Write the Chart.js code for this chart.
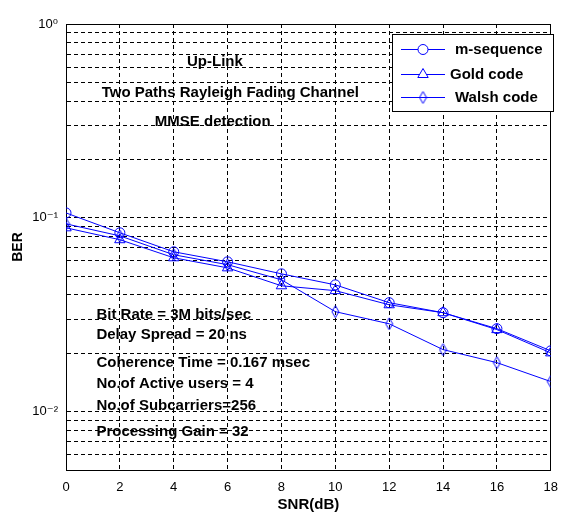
<!DOCTYPE html>
<html><head><meta charset="utf-8">
<script src="https://cdn.jsdelivr.net/npm/chart.js@4.4.1/dist/chart.umd.min.js"></script>
<style>html,body{margin:0;padding:0;background:#fff}#wrap{width:568px;height:518px}</style>
</head><body><div id="wrap"><canvas id="c" width="568" height="518"></canvas></div>
<script>
// ---- data ----
const snr = [0, 2, 4, 6, 8, 10, 12, 14, 16, 18];
const mSequence = [0.106, 0.0837, 0.0668, 0.0593, 0.0514, 0.0451, 0.0365, 0.0324, 0.0268, 0.0206];
const goldCode  = [0.0888, 0.0771, 0.0622, 0.0552, 0.0446, 0.0421, 0.0356, 0.0324, 0.0265, 0.0201];
const walshCode = [0.0931, 0.0807, 0.0645, 0.0573, 0.0479, 0.0328, 0.0284, 0.0209, 0.0179, 0.0143];
const seriesNames = ['m-sequence', 'Gold code', 'Walsh code'];
const xTickValues = [0, 2, 4, 6, 8, 10, 12, 14, 16, 18];
const yTickValues = [0.01, 0.1, 1];
const yTickLabels = ['10\u207B\u00B2', '10\u207B\u00B9', '10\u2070'];
const titleNotes = ['Up-Link', 'Two Paths Rayleigh Fading Channel', 'MMSE detection'];
const paramNotes = ['Bit Rate = 3M bits/sec', 'Delay Spread = 20 ns', 'Coherence Time = 0.167 msec',
                    'No.of Active users = 4', 'No.of Subcarriers=256', 'Processing Gain = 32'];
// anchors of the notes in data units (SNR, BER)
const titleNoteAt = [[5.53, 0.64], [6.1, 0.441], [5.45, 0.313]];
const paramNoteAt = [[1.13, 0.0315], [1.13, 0.0249], [1.13, 0.0179], [1.13, 0.0139], [1.13, 0.0107], [1.13, 0.0079]];

const BLUE = '#0000ff';
const FONT = '"Liberation Sans", Arial, "DejaVu Sans", sans-serif';

function makeDiamond(color) {
  const c = document.createElement('canvas'); c.width = 9; c.height = 14;
  const g = c.getContext('2d'); g.strokeStyle = color; g.lineWidth = 1;
  g.beginPath(); g.moveTo(4.5, 1); g.lineTo(8, 7); g.lineTo(4.5, 13); g.lineTo(1, 7); g.closePath(); g.stroke();
  return c;
}
const diamond = makeDiamond(BLUE);

function pts(arr) { return snr.map((x, i) => ({x: x, y: arr[i]})); }
function ds(label, arr, style, r) {
  return {label, data: pts(arr), borderColor: BLUE, borderWidth: 1, pointStyle: style,
    pointRadius: r, pointBorderColor: BLUE, pointBackgroundColor: 'rgba(0,0,0,0)', pointBorderWidth: 1,
    fill: false, tension: 0};
}

const boxPlugin = {
  id: 'box',
  beforeDatasetsDraw(chart) {
    const {ctx, chartArea: a} = chart;
    ctx.save(); ctx.strokeStyle = '#000'; ctx.lineWidth = 1; ctx.setLineDash([]);
    ctx.strokeRect(Math.round(a.left) + 0.5, Math.round(a.top) + 0.5, Math.round(a.right - a.left) - 1, Math.round(a.bottom - a.top));
    ctx.restore();
  }
};

const notesPlugin = {
  id: 'notes',
  afterDatasetsDraw(chart) {
    const {ctx, scales: {x, y}} = chart;
    ctx.save(); ctx.fillStyle = '#000'; ctx.font = 'bold 15px ' + FONT; ctx.textBaseline = 'middle';
    ctx.textAlign = 'center';
    titleNotes.forEach((t, i) => ctx.fillText(t, x.getPixelForValue(titleNoteAt[i][0]), y.getPixelForValue(titleNoteAt[i][1])));
    ctx.textAlign = 'left';
    paramNotes.forEach((t, i) => ctx.fillText(t, x.getPixelForValue(paramNoteAt[i][0]), y.getPixelForValue(paramNoteAt[i][1])));
    ctx.restore();
  }
};

const legendPlugin = {
  id: 'boxLegend',
  afterDraw(chart) {
    const {ctx} = chart;
    const L = 392, T = 34, R = 553, B = 111;
    ctx.save();
    ctx.fillStyle = '#fff'; ctx.fillRect(L, T, R - L, B - T);
    ctx.strokeStyle = '#000'; ctx.lineWidth = 1; ctx.strokeRect(L + 0.5, T + 0.5, R - L, B - T);
    const rows = [49, 74, 97];
    chart.data.datasets.forEach((d, i) => {
      const yy = rows[i] + 0.5;
      ctx.strokeStyle = BLUE; ctx.lineWidth = 1;
      ctx.beginPath(); ctx.moveTo(401, yy); ctx.lineTo(445, yy); ctx.stroke();
      if (d.pointStyle === diamond) {
        ctx.drawImage(diamond, 423 - 4.5, yy - 7);
      } else {
        ctx.fillStyle = '#fff';
        Chart.helpers.drawPoint(ctx, {pointStyle: d.pointStyle, radius: d.pointRadius, borderWidth: 1, rotation: 0}, 423, yy);
      }
      ctx.fillStyle = '#000'; ctx.font = 'bold 15px ' + FONT; ctx.textAlign = 'left'; ctx.textBaseline = 'middle';
      ctx.fillText(d.label, [455, 450, 455][i], yy);
    });
    ctx.restore();
  }
};

new Chart(document.getElementById('c'), {
  type: 'line',
  data: {datasets: [ds(seriesNames[0], mSequence, 'circle', 5), ds(seriesNames[1], goldCode, 'triangle', 6), ds(seriesNames[2], walshCode, diamond, 6)]},
  options: {
    responsive: false, animation: false, devicePixelRatio: 1,
    layout: {padding: {top: 24, right: 7, left: 0, bottom: 0}},
    plugins: {legend: {display: false}, tooltip: {enabled: false}},
    scales: {
      x: {
        type: 'linear', min: 0, max: 18,
        afterBuildTicks(s) { s.ticks = xTickValues.map(v => ({value: v})); },
        afterFit(s) { s.height = 48; },
        ticks: {color: '#000', font: {family: FONT, size: 13}, padding: 10, maxRotation: 0, autoSkip: false},
        grid: {color: '#000', lineWidth: 1, drawTicks: false},
        border: {display: true, color: '#000', dash: [4, 3]},
        title: {display: true, text: 'SNR(dB)', color: '#000', font: {family: FONT, size: 15, weight: 'bold'}, padding: {top: 0, bottom: 4}}
      },
      y: {
        type: 'logarithmic', min: 0.005, max: 1,
        afterBuildTicks(s) {
          const t = [];
          for (let e = -3; e <= 0; e++) for (let m = 1; m <= 9; m++) {
            const v = +(m * Math.pow(10, e)).toPrecision(6);
            if (v >= 0.005 - 1e-12 && v <= 1 + 1e-12) t.push({value: v});
          }
          s.ticks = t;
        },
        afterFit(s) { s.width = 66; },
        ticks: {color: '#000', font: {family: FONT, size: 13}, padding: 8, autoSkip: false,
          callback(v) { const k = yTickValues.findIndex(d => Math.abs(d - v) / d < 1e-6); return k >= 0 ? yTickLabels[k] : ''; }},
        grid: {color: '#000', lineWidth: 1, drawTicks: false},
        border: {display: true, color: '#000', dash: [4, 3]},
        title: {display: true, text: 'BER', color: '#000', font: {family: FONT, size: 14, weight: 'bold'}, padding: {top: 10, bottom: 0}}
      }
    }
  },
  plugins: [boxPlugin, notesPlugin, legendPlugin]
});
</script>
</body></html>
